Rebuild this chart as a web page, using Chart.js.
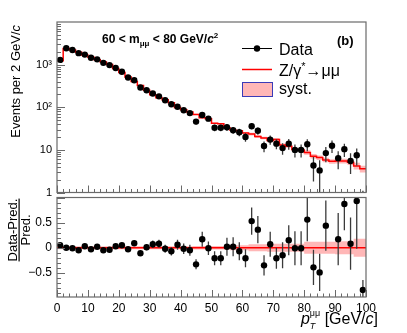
<!DOCTYPE html>
<html>
<head>
<meta charset="utf-8">
<script src="https://cdn.jsdelivr.net/npm/chart.js@4.4.1/dist/chart.umd.min.js"></script>
<style>
body { margin: 0; background: white; }
#wrap { position: relative; width: 407px; height: 333px; background: white; }
canvas { position: absolute; left: 0; top: 0; }
</style>
</head>
<body>
<div id="wrap">
<canvas id="topPanel" width="407" height="333" style="width:407px;height:333px"></canvas>
<canvas id="ratioPanel" width="407" height="333" style="width:407px;height:333px"></canvas>
</div>
<script>
// bins of 2 GeV/c in pT
const binCenters = [1, 3, 5, 7, 9, 11, 13, 15, 17, 19, 21, 23, 25, 27, 29, 31, 33, 35, 37, 39,
  41, 43, 45, 47, 49, 51, 53, 55, 57, 59, 61, 63, 65, 67, 69, 71, 73, 75, 77, 79,
  81, 83, 85, 87, 89, 91, 93, 95, 97, 99]
const binHalfWidth = 1

// events per bin (data)
const dataValues = [1290, 2420, 2200, 1860, 1720, 1450, 1330, 1100, 975, 835,
  680, 500, 430, 290, 250, 210, 180, 146, 118, 103,
  85, 73, 46, 66, 54, 33, 33, 34, 29, 26,
  20, 36, 28, 12.3, 17.4, 14, 11, 14, 10, 10,
  13.5, 4.3, 3.3, 8.4, 12.5, 6.4, 10.4, 5.5, 7.5, 0.6]
const dataErrors = [36, 49, 47, 43, 41, 38, 36, 33, 31, 29,
  26, 22, 21, 17, 16, 14.5, 13.4, 12, 10.9, 10.1,
  9.2, 8.5, 6.8, 8.1, 7.3, 5.7, 5.7, 5.8, 5.4, 5.1,
  4.5, 6.0, 5.3, 3.5, 4.2, 3.7, 3.3, 3.9, 3.4, 3.4,
  4.2, 2.5, 2.4, 3.3, 4.0, 2.9, 3.6, 2.8, 3.2, 0.5]

// Z/gamma* -> mumu prediction
const predValues = [1230, 2400, 2200, 1950, 1680, 1490, 1310, 1160, 1010, 815,
  650, 515, 400, 325, 250, 197, 167, 149, 127, 98,
  87, 77, 68, 57, 54, 42, 41, 33, 29, 28,
  25, 23.5, 20.5, 19, 16.5, 17.5, 13, 12.2, 10.2, 10,
  8.7, 7.1, 6.6, 5.8, 5.4, 5.5, 5.5, 5.1, 4.2, 3.6]
// relative systematic uncertainty of the prediction
const systRel = [0.03, 0.03, 0.03, 0.03, 0.03, 0.03, 0.03, 0.03, 0.03, 0.03,
  0.03, 0.03, 0.03, 0.03, 0.03, 0.03, 0.03, 0.03, 0.03, 0.03,
  0.03, 0.03, 0.035, 0.035, 0.035, 0.035, 0.035, 0.035, 0.05, 0.05,
  0.05, 0.07, 0.07, 0.07, 0.08, 0.08, 0.08, 0.08, 0.08, 0.08,
  0.12, 0.12, 0.12, 0.12, 0.12, 0.13, 0.13, 0.13, 0.18, 0.18]

// (Data-Pred.)/Pred.
const ratioValues = [0.05, 0, -0.01, -0.05, 0.03, -0.03, 0.02, -0.05, -0.04, 0.03,
  0.05, -0.03, 0.09, -0.11, 0.01, 0.07, 0.08, -0.02, -0.07, 0.06,
  -0.02, -0.05, -0.33, 0.17, -0.01, -0.21, -0.21, 0.02, 0.02, -0.07,
  -0.21, 0.53, 0.36, -0.35, 0.07, -0.21, -0.15, 0.15, -0.01, -0.01,
  0.56, -0.39, -0.49, 0.44, 1.6, 0.17, 0.87, 0.08, 0.93, -0.84]
const ratioErrors = [0.03, 0.02, 0.02, 0.02, 0.025, 0.025, 0.03, 0.03, 0.03, 0.035,
  0.04, 0.045, 0.05, 0.05, 0.06, 0.075, 0.08, 0.08, 0.085, 0.1,
  0.105, 0.11, 0.1, 0.15, 0.135, 0.14, 0.14, 0.18, 0.19, 0.18,
  0.18, 0.27, 0.27, 0.2, 0.25, 0.21, 0.26, 0.3, 0.34, 0.34,
  0.43, 0.35, 0.37, 0.5, 0.55, 0.52, 0.52, 0.52, 0.95, 0.2]

const xTickValues = [0, 10, 20, 30, 40, 50, 60, 70, 80, 90, 100]
const xTickLabels = ['0', '10', '20', '30', '40', '50', '60', '70', '80', '90', '100']
const topTickValues = [1, 10, 100, 1000]
const topTickLabels = ['1', '10', '10²', '10³']
const ratioTickValues = [-0.5, 0, 0.5]
const ratioTickLabels = ['−0.5', '0', '0.5']

const FONT = '"Liberation Sans", Arial, sans-serif'
const frameColor = '#6a6a6a'
const bandColor = 'rgba(255, 95, 95, 0.45)'
const errColor = '#3a3a3a'

function histPoints(values) {
  const pts = []
  binCenters.forEach((c, i) => {
    pts.push({ x: c - binHalfWidth, y: values[i] })
    pts.push({ x: c + binHalfWidth, y: values[i] })
  })
  return pts
}

function errorPoints(values, errors, floor) {
  const pts = []
  binCenters.forEach((c, i) => {
    pts.push({ x: c, y: Math.max(values[i] - errors[i], floor) })
    pts.push({ x: c, y: values[i] + errors[i] })
    pts.push({ x: c, y: null })
  })
  return pts
}

// text made of pieces with their own font and vertical shift
function drawParts(ctx, parts, x, y, align) {
  let total = 0
  parts.forEach(p => {
    ctx.font = p.f
    if (p.adv !== false) total += ctx.measureText(p.t).width
  })
  let cx = align === 'right' ? x - total : x
  ctx.textAlign = 'left'
  ctx.textBaseline = 'alphabetic'
  parts.forEach(p => {
    ctx.font = p.f
    ctx.fillText(p.t, cx, y + (p.dy || 0))
    if (p.adv !== false) cx += ctx.measureText(p.t).width
  })
}

function drawFrame(ctx, a) {
  ctx.strokeStyle = frameColor
  ctx.lineWidth = 1.2
  ctx.strokeRect(a.left, a.top, a.right - a.left, a.bottom - a.top)
}

function drawXTicks(ctx, chart) {
  const a = chart.chartArea
  const xs = chart.scales.x
  ctx.strokeStyle = frameColor
  ctx.lineWidth = 1
  ctx.beginPath()
  for (let v = 0; v <= 100; v += 2) {
    const px = Math.round(xs.getPixelForValue(v)) + 0.5
    const len = v % 10 === 0 ? 7 : 3.5
    ctx.moveTo(px, a.bottom)
    ctx.lineTo(px, a.bottom - len)
  }
  ctx.stroke()
}

const topDecor = {
  id: 'topDecor',
  afterDraw(chart) {
    const { ctx, chartArea: a } = chart
    const ys = chart.scales.y
    ctx.save()
    drawFrame(ctx, a)
    drawXTicks(ctx, chart)
    // log ticks on the left
    ctx.beginPath()
    topTickValues.forEach(d => {
      for (let m = 1; m <= 9; m++) {
        const py = Math.round(ys.getPixelForValue(m * d)) + 0.5
        if (py < a.top) continue
        const len = m === 1 ? 8 : 4
        ctx.moveTo(a.left, py)
        ctx.lineTo(a.left + len, py)
      }
    })
    ctx.stroke()

    ctx.fillStyle = '#000'
    // y title
    ctx.save()
    ctx.translate(20, 25)
    ctx.rotate(-Math.PI / 2)
    drawParts(ctx, [
      { t: 'Events per 2 GeV/', f: '13px ' + FONT },
      { t: 'c', f: 'italic 13px ' + FONT }
    ], 0, 0, 'right')
    ctx.restore()

    // mass window
    drawParts(ctx, [
      { t: '60 < m', f: 'bold 12px ' + FONT },
      { t: 'μμ', f: 'bold 8px ' + FONT, dy: 3 },
      { t: ' < 80 GeV/', f: 'bold 12px ' + FONT },
      { t: 'c', f: 'bold italic 12px ' + FONT },
      { t: '2', f: 'bold 8px ' + FONT, dy: -5 }
    ], 102, 43, 'left')
    ctx.font = 'bold 13px ' + FONT
    ctx.fillText('(b)', 337, 45)

    // legend
    const lx0 = 242, lx1 = 272, tx = 279
    ctx.strokeStyle = '#000'
    ctx.lineWidth = 1
    ctx.beginPath()
    ctx.moveTo(lx0, 48.5)
    ctx.lineTo(lx1, 48.5)
    ctx.stroke()
    ctx.beginPath()
    ctx.arc((lx0 + lx1) / 2, 48.5, 3.2, 0, Math.PI * 2)
    ctx.fill()
    ctx.strokeStyle = '#ff0000'
    ctx.lineWidth = 1.5
    ctx.beginPath()
    ctx.moveTo(lx0, 69.5)
    ctx.lineTo(lx1, 69.5)
    ctx.stroke()
    ctx.fillStyle = bandColor
    ctx.fillRect(lx0, 82.5, lx1 - lx0, 14)
    ctx.strokeStyle = '#3b3bb8'
    ctx.lineWidth = 1
    ctx.strokeRect(lx0 + 0.5, 82.5, lx1 - lx0, 14)
    ctx.fillStyle = '#000'
    ctx.font = '16px ' + FONT
    ctx.fillText('Data', tx, 55)
    drawParts(ctx, [
      { t: 'Z/γ', f: '16px ' + FONT },
      { t: '*', f: '11px ' + FONT, dy: -6 },
      { t: '→μμ', f: '16px ' + FONT }
    ], tx, 76, 'left')
    ctx.font = '16px ' + FONT
    ctx.fillText('syst.', tx, 94)
    ctx.restore()
  }
}

const ratioDecor = {
  id: 'ratioDecor',
  afterDraw(chart) {
    const { ctx, chartArea: a } = chart
    const ys = chart.scales.y
    ctx.save()
    drawFrame(ctx, a)
    drawXTicks(ctx, chart)
    ctx.beginPath()
    for (let k = -9; k <= 10; k++) {
      const v = k / 10
      const py = Math.round(ys.getPixelForValue(v)) + 0.5
      if (py < a.top || py > a.bottom) continue
      const len = k % 5 === 0 ? 8 : 4
      ctx.moveTo(a.left, py)
      ctx.lineTo(a.left + len, py)
    }
    ctx.stroke()

    ctx.fillStyle = '#000'
    // y title as a fraction
    ctx.save()
    ctx.translate(0, 230)
    ctx.rotate(-Math.PI / 2)
    ctx.font = '13px ' + FONT
    ctx.textAlign = 'center'
    ctx.textBaseline = 'alphabetic'
    ctx.fillText('Data-Pred.', 0, 17)
    const w = ctx.measureText('Data-Pred.').width
    ctx.fillRect(-w / 2, 18.5, w, 1.2)
    ctx.fillText('Pred.', 0, 30)
    ctx.restore()

    // x title
    drawParts(ctx, [
      { t: 'p', f: 'italic 16px ' + FONT },
      { t: 'T', f: 'italic 9px ' + FONT, dy: 5, adv: false },
      { t: 'μμ', f: '9px ' + FONT, dy: -8 },
      { t: ' [GeV/', f: '16px ' + FONT },
      { t: 'c', f: 'italic 16px ' + FONT },
      { t: ']', f: '16px ' + FONT }
    ], 378, 324, 'right')
    ctx.restore()
  }
}

const baseLine = { pointRadius: 0, borderWidth: 0, fill: false, clip: 0 }

const topChart = new Chart(document.getElementById('topPanel'), {
  type: 'line',
  data: {
    datasets: [
      { ...baseLine, data: binCenters.map((c, i) => ({ x: c, y: dataValues[i] })),
        showLine: false, pointRadius: 3.2, pointBackgroundColor: '#000', pointBorderWidth: 0 },
      { ...baseLine, data: errorPoints(dataValues, dataErrors, 0.1), borderColor: errColor,
        borderWidth: 1.3, spanGaps: false },
      { ...baseLine, data: histPoints(predValues), borderColor: '#ff0000', borderWidth: 1.5 },
      { ...baseLine, data: histPoints(predValues.map((p, i) => p * (1 + systRel[i]))),
        fill: '+1', backgroundColor: bandColor },
      { ...baseLine, data: histPoints(predValues.map((p, i) => p * (1 - systRel[i]))) }
    ]
  },
  options: {
    responsive: false,
    animation: false,
    events: [],
    layout: { padding: { left: 0, top: 22, right: 41, bottom: 140.5 } },
    plugins: { legend: { display: false }, tooltip: { enabled: false } },
    scales: {
      x: { type: 'linear', min: 0, max: 100, display: false },
      y: {
        type: 'logarithmic', min: 1, max: 10000,
        afterFit: s => { s.width = 57 },
        afterBuildTicks: s => { s.ticks = topTickValues.map(v => ({ value: v })) },
        grid: { display: false, drawTicks: false },
        border: { display: false },
        ticks: {
          padding: 5, autoSkip: false, color: '#000',
          font: { family: FONT, size: 11 },
          callback: (v, i) => topTickLabels[i]
        }
      }
    }
  },
  plugins: [topDecor]
})

const ratioChart = new Chart(document.getElementById('ratioPanel'), {
  type: 'line',
  data: {
    datasets: [
      { ...baseLine, data: binCenters.map((c, i) => ({ x: c, y: ratioValues[i] })),
        showLine: false, pointRadius: 3.2, pointBackgroundColor: '#000', pointBorderWidth: 0 },
      { ...baseLine, data: errorPoints(ratioValues, ratioErrors, -5), borderColor: errColor,
        borderWidth: 1.3, spanGaps: false },
      { ...baseLine, data: histPoints(binCenters.map(() => 0)), borderColor: '#ff0000', borderWidth: 1.5 },
      { ...baseLine, data: histPoints(systRel), fill: '+1', backgroundColor: bandColor },
      { ...baseLine, data: histPoints(systRel.map(s => -s)) }
    ]
  },
  options: {
    responsive: false,
    animation: false,
    events: [],
    layout: { padding: { left: 0, top: 197.5, right: 41, bottom: 0 } },
    plugins: { legend: { display: false }, tooltip: { enabled: false } },
    scales: {
      x: {
        type: 'linear', min: 0, max: 100,
        afterFit: s => { s.height = 36 },
        afterBuildTicks: s => { s.ticks = xTickValues.map(v => ({ value: v })) },
        grid: { display: false, drawTicks: false },
        border: { display: false },
        ticks: {
          padding: 4, autoSkip: false, maxRotation: 0, color: '#000',
          font: { family: FONT, size: 12 },
          callback: (v, i) => xTickLabels[i]
        }
      },
      y: {
        type: 'linear', min: -0.98, max: 1.0,
        afterFit: s => { s.width = 57 },
        afterBuildTicks: s => { s.ticks = ratioTickValues.map(v => ({ value: v })) },
        grid: { display: false, drawTicks: false },
        border: { display: false },
        ticks: {
          padding: 5, autoSkip: false, color: '#000',
          font: { family: FONT, size: 12 },
          callback: (v, i) => ratioTickLabels[i]
        }
      }
    }
  },
  plugins: [ratioDecor]
})
</script>
</body>
</html>
